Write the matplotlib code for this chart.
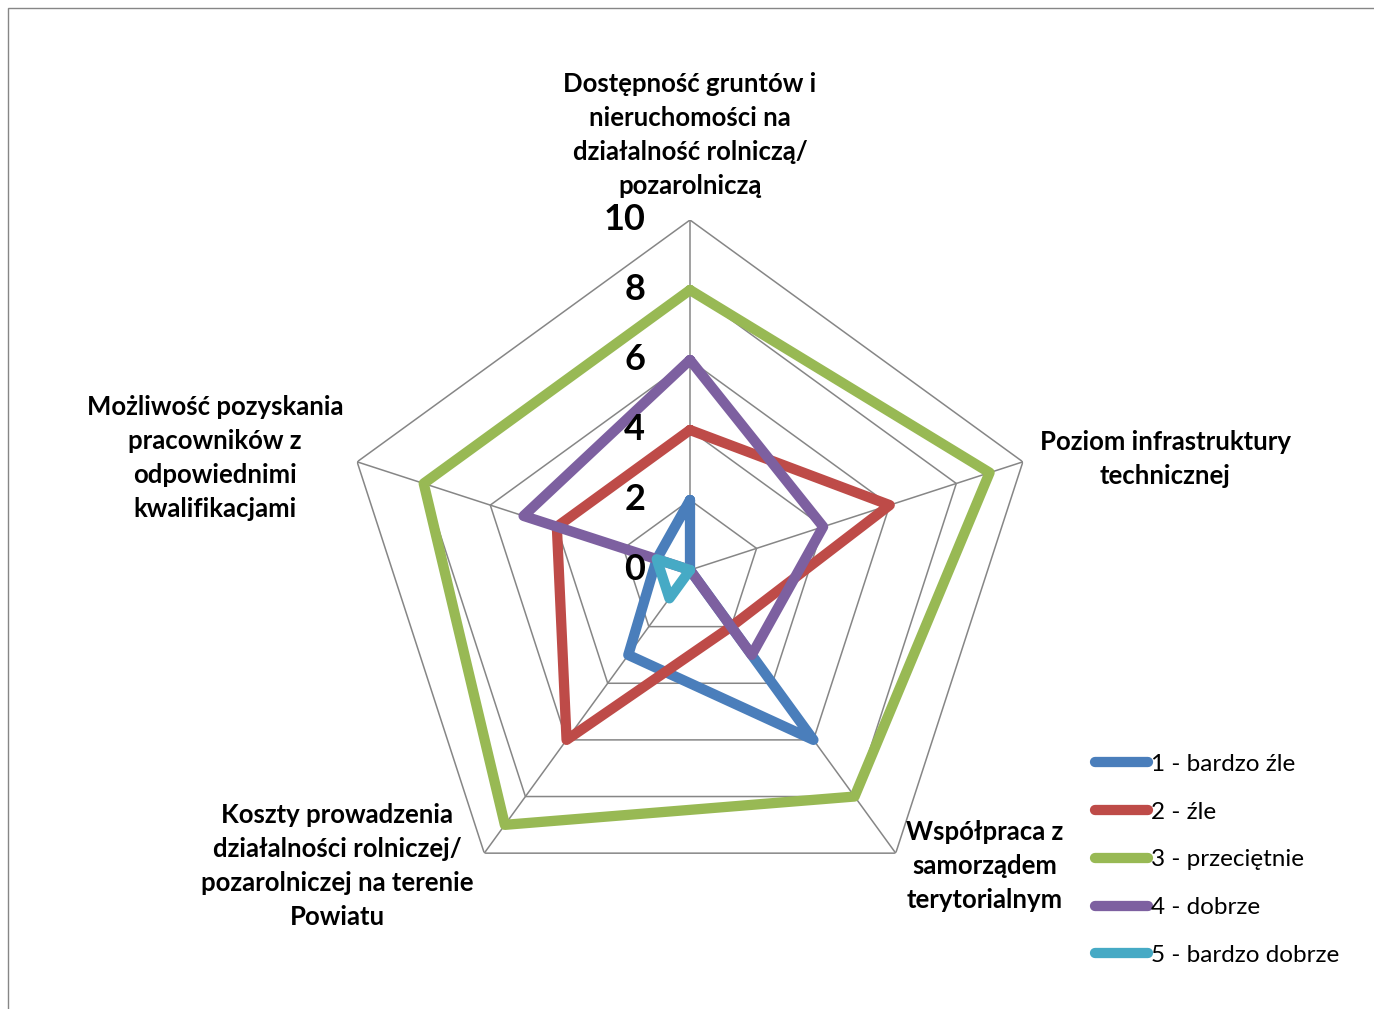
#wykres radarowy - ocena warunków w powiecie
import matplotlib
matplotlib.use('Agg')
import matplotlib.pyplot as plt
import numpy as np
from matplotlib.patches import Rectangle

plt.rcParams['font.family'] = ['Lato', 'DejaVu Sans']

#kategorie (osie wykresu)
kategorie = [
    'Dostępność gruntów i\nnieruchomości na\ndziałalność rolniczą/\npozarolniczą',
    'Poziom infrastruktury\ntechnicznej',
    'Współpraca z\nsamorządem\nterytorialnym',
    'Koszty prowadzenia\ndziałalności rolniczej/\npozarolniczej na terenie\nPowiatu',
    'Możliwość pozyskania\npracowników z\nodpowiednimi\nkwalifikacjami',
]

#serie - liczba odpowiedzi
bardzo_zle = [2, 0, 6, 3, 1]
zle = [4, 6, 2, 6, 4]
przecietnie = [8, 9, 8, 9, 8]
dobrze = [6, 4, 3, 0, 5]
bardzo_dobrze = [0, 0, 0, 1, 1]

serie = [bardzo_zle, zle, przecietnie, dobrze, bardzo_dobrze]
etykiety = ['1 - bardzo źle', '2 - źle', '3 - przeciętnie', '4 - dobrze', '5 - bardzo dobrze']
kolory = ['#4a7ebb', '#be4b48', '#98b954', '#7d60a0', '#46aac5']

#wartosci osi
poziomy = [0, 2, 4, 6, 8, 10]

W, H = 1374, 1009
fig = plt.figure(figsize=(W / 100, H / 100), dpi=100)

#ramka obszaru wykresu
fig.patches.append(Rectangle((8 / W, -0.1), 1.2, 1 - 8 / H + 0.1, transform=fig.transFigure,
                             fill=False, edgecolor='#868686', linewidth=1.0))

cx, cy, R = 690, 570, 350
ax = fig.add_axes([(cx - R) / W, (H - cy - R) / H, 2 * R / W, 2 * R / H], projection='polar')
ax.set_theta_offset(np.pi / 2)
ax.set_theta_direction(-1)
ax.set_ylim(0, 10)
ax.set_xticks([])
ax.set_yticks([])
ax.grid(False)
ax.spines['polar'].set_visible(False)
ax.patch.set_alpha(0)

n = len(kategorie)
katy = np.linspace(0, 2 * np.pi, n, endpoint=False)
katy_z = np.concatenate([katy, katy[:1]])

#siatka pieciokatna
for p in poziomy[1:]:
    ax.plot(katy_z, [p] * (n + 1), color='#868686', linewidth=1.1, zorder=1)
for k in katy:
    ax.plot([k, k], [0, 10], color='#868686', linewidth=1.1, zorder=1)

#serie danych
for wart, lab, kol in zip(serie, etykiety, kolory):
    wz = wart + wart[:1]
    ax.plot(katy_z, wz, color=kol, linewidth=7.4, label=lab, zorder=3,
            solid_joinstyle='round', solid_capstyle='round')

#etykiety wartosci osi
for p in poziomy:
    ax.annotate(str(p), xy=(0, p), xytext=(-45, 0), textcoords='offset pixels',
                ha='right', va='center', fontsize=26, fontweight='bold', zorder=4)

#etykiety kategorii (pozycje w pikselach)
poz_etykiet = [(690, 135), (1165, 459), (985, 866), (337, 866), (215, 458)]
for tekst, (px, py) in zip(kategorie, poz_etykiet):
    fig.text(px / W, 1 - py / H, tekst, ha='center', va='center', fontsize=18.5,
             fontweight='bold', linespacing=1.5)

#legenda
leg = fig.legend(loc='upper left', bbox_to_anchor=(1073 / W, 1 - 732 / H), frameon=False,
                 fontsize=17.5, handlelength=2.2, handletextpad=0.12, labelspacing=1.1)
for linia in leg.get_lines():
    linia.set_linewidth(7.4)

fig.savefig('out.png', dpi=100)
